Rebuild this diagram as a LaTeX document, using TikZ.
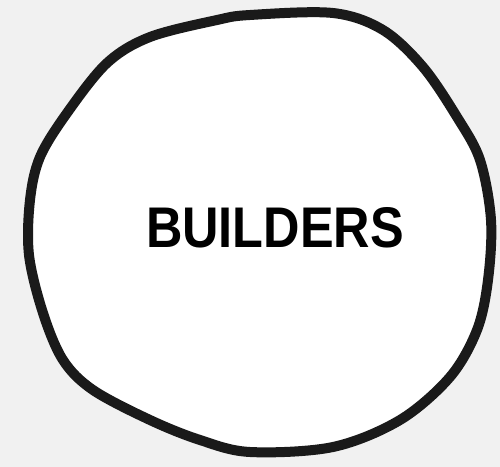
\documentclass[tikz,border=0pt]{standalone}
\usepackage{fontspec}
\setmainfont{Liberation Sans}
\definecolor{bg}{HTML}{F1F1F1}
\definecolor{ink}{HTML}{1A1A1A}
\tikzset{blob/.style={draw=ink,fill=white,line width=7.5pt,line join=round},
 label/.style={font=\fontsize{43}{43}\selectfont\bfseries,text=black,inner sep=0pt,xscale=0.88}}
\begin{document}
\begin{tikzpicture}[x=0.75pt,y=-0.75pt]
\fill[bg] (0,0) rectangle (500,467);
\useasboundingbox (0,0) rectangle (500,467);
\draw[blob] plot[smooth cycle,tension=0.55] coordinates{
(250,15) (333,13) (383,30) (423,67) (457,117) (480,160) (491,220)
(488,280) (477,330) (450,377) (400,420) (333,447) (250,452)
(200,440) (150,420) (93,390) (63,360) (43,313) (29,255) (30,200)
(40,157) (67,113) (107,63) (150,37) (217,20)};
\node[label] (t) at (275,228) {BUILDERS};
\end{tikzpicture}
\end{document}
